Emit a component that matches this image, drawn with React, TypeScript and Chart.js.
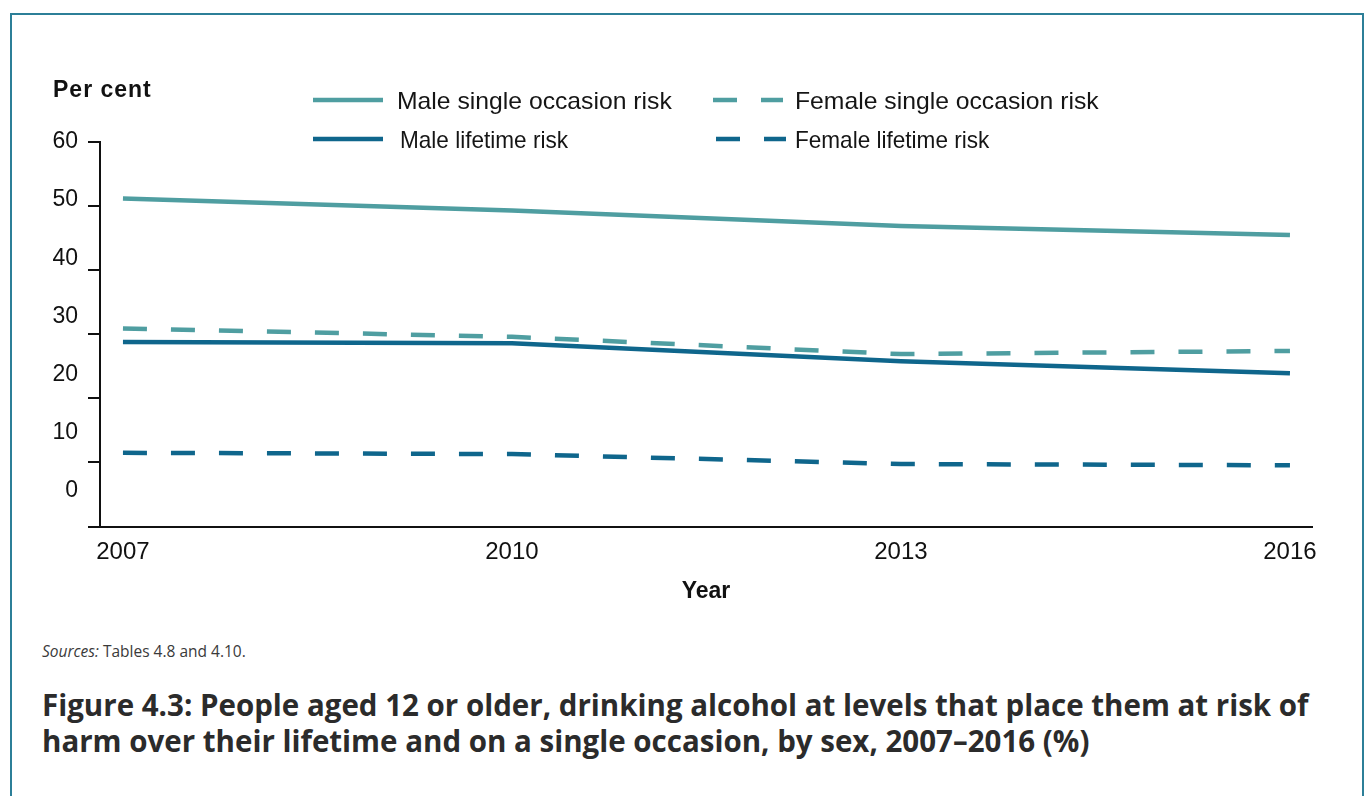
import React, { useEffect, useRef } from "react";
import { Chart, registerables } from "chart.js";

Chart.register(...registerables);

// ---- data ----
const years = [2007, 2010, 2013, 2016];
const maleSingle = [51.2, 49.3, 46.9, 45.5];
const femaleSingle = [30.9, 29.6, 26.9, 27.4];
const maleLifetime = [28.8, 28.6, 25.8, 23.9];
const femaleLifetime = [11.5, 11.3, 9.75, 9.55];
const yTickValues = [0, 10, 20, 30, 40, 50, 60];
const xTickValues = [2007, 2010, 2013, 2016];

const TEAL = "#4f9ea1";
const BLUE = "#0f668c";

const series = [
  { label: "Male single occasion risk", values: maleSingle, color: TEAL, dashed: false },
  { label: "Female single occasion risk", values: femaleSingle, color: TEAL, dashed: true },
  { label: "Male lifetime risk", values: maleLifetime, color: BLUE, dashed: false },
  { label: "Female lifetime risk", values: femaleLifetime, color: BLUE, dashed: true },
];

const FONT = "'Liberation Sans', Arial, Helvetica, sans-serif";

function LegendItem({ s, x, y, textX, sx }: { s: any; x: number; y: number; textX: number; sx: number }) {
  return (
    <>
      <svg
        style={{ position: "absolute", left: x, top: y - 4, overflow: "visible" }}
        width={72}
        height={8}
      >
        <line
          x1={0}
          y1={4}
          x2={70}
          y2={4}
          stroke={s.color}
          strokeWidth={4.5}
          strokeDasharray={s.dashed ? "24 24" : undefined}
        />
      </svg>
      <div
        style={{
          position: "absolute",
          left: textX,
          top: y - 11.5,
          fontFamily: FONT,
          fontSize: 24,
          lineHeight: "24px",
          color: "#151515",
          whiteSpace: "nowrap",
          transform: `scaleX(${sx})`,
          transformOrigin: "left center",
        }}
      >
        {s.label}
      </div>
    </>
  );
}

export default function App() {
  const canvasRef = useRef<HTMLCanvasElement | null>(null);

  useEffect(() => {
    if (!canvasRef.current) return;
    const chart = new Chart(canvasRef.current, {
      type: "line",
      data: {
        datasets: series.map((s) => ({
          label: s.label,
          data: years.map((yr, i) => ({ x: yr, y: s.values[i] })),
          borderColor: s.color,
          backgroundColor: s.color,
          borderWidth: 4.5,
          borderDash: s.dashed ? [24, 24] : [],
          borderCapStyle: "butt" as const,
          pointRadius: 0,
          tension: 0,
          fill: false,
          yAxisID: "y",
          xAxisID: "x",
        })),
      },
      options: {
        responsive: false,
        animation: false,
        devicePixelRatio: 1,
        layout: { padding: { left: 20, right: 53, top: 142, bottom: 13.5 } },
        plugins: {
          legend: { display: false },
          tooltip: { enabled: false },
          title: { display: false },
        },
        scales: {
          x: {
            type: "linear",
            position: "bottom",
            min: 2006.823,
            max: 2016.17,
            afterBuildTicks: (s: any) => {
              s.ticks = xTickValues.map((v) => ({ value: v }));
            },
            afterFit: (s: any) => {
              s.height = 80;
            },
            grid: { display: false, drawTicks: false },
            border: { display: true, color: "#111", width: 2 },
            ticks: {
              padding: 11,
              color: "#111",
              maxRotation: 0,
              autoSkip: false,
              font: { family: FONT, size: 24 },
              callback: (v: any) => String(v),
            },
            title: {
              display: true,
              text: "Year",
              color: "#111",
              font: { family: FONT, size: 23, weight: "bold" },
              padding: { top: 0, bottom: 1 },
            },
          },
          yLabels: {
            type: "linear",
            position: "left",
            weight: 10,
            min: -6.2,
            max: 60,
            afterBuildTicks: (s: any) => {
              s.ticks = yTickValues.map((v) => ({ value: v }));
            },
            afterFit: (s: any) => {
              s.width = 68;
            },
            grid: { display: false, drawTicks: false },
            border: { display: false },
            ticks: {
              padding: 10,
              color: "#111",
              font: { family: FONT, size: 23 },
              callback: (v: any) => String(v),
            },
          },
          y: {
            type: "linear",
            position: "left",
            weight: 0,
            min: 0,
            max: 60,
            afterBuildTicks: (s: any) => {
              s.ticks = yTickValues.map((v) => ({ value: v }));
            },
            afterFit: (s: any) => {
              s.width = 12;
            },
            grid: {
              display: true,
              drawOnChartArea: false,
              drawTicks: true,
              tickLength: 12,
              color: "#111",
              lineWidth: 2,
            },
            border: { display: true, color: "#111", width: 2 },
            ticks: { display: false },
          },
        },
      } as any,
    });
    return () => chart.destroy();
  }, []);

  return (
    <div style={{ position: "relative", width: 1365, height: 796, overflow: "hidden", background: "#fff" }}>
      <style>{"body{margin:0;}"}</style>
      <div
        style={{
          position: "absolute",
          left: 10,
          top: 13,
          width: 1350,
          height: 800,
          borderTop: "2px solid #2c7f98",
          borderLeft: "2px solid #2c7f98",
          borderRight: "2px solid #2c7f98",
        }}
      />
      <canvas
        ref={canvasRef}
        width={1365}
        height={620}
        style={{ position: "absolute", left: 0, top: 0, width: 1365, height: 620 }}
      />
      <div
        style={{
          position: "absolute",
          left: 53,
          top: 77.5,
          fontFamily: FONT,
          fontWeight: "bold",
          fontSize: 23,
          lineHeight: "23px",
          letterSpacing: 1,
          color: "#111",
          whiteSpace: "nowrap",
        }}
      >
        Per cent
      </div>
      <LegendItem s={series[0]} x={313} y={100} textX={397} sx={1.03} />
      <LegendItem s={series[1]} x={713} y={100} textX={795} sx={1.03} />
      <LegendItem s={series[2]} x={313} y={139} textX={400} sx={0.94} />
      <LegendItem s={series[3]} x={716} y={139} textX={795} sx={0.94} />
      <div
        style={{
          position: "absolute",
          left: 42,
          top: 644.2,
          fontFamily: "'Open Sans', sans-serif",
          fontSize: 15.5,
          lineHeight: "15.5px",
          color: "#3a3a3a",
          whiteSpace: "nowrap",
        }}
      >
        <i>Sources:</i> Tables 4.8 and 4.10.
      </div>
      <div
        style={{
          position: "absolute",
          left: 42,
          top: 687.3,
          fontFamily: "'Open Sans', sans-serif",
          fontWeight: 700,
          fontSize: 29.5,
          lineHeight: "36px",
          color: "#2b2b2b",
          whiteSpace: "nowrap",
        }}
      >
        Figure 4.3: People aged 12 or older, drinking alcohol at levels that place them at risk of
        <br />
        harm over their lifetime and on a single occasion, by sex, 2007–2016 (%)
      </div>
    </div>
  );
}
